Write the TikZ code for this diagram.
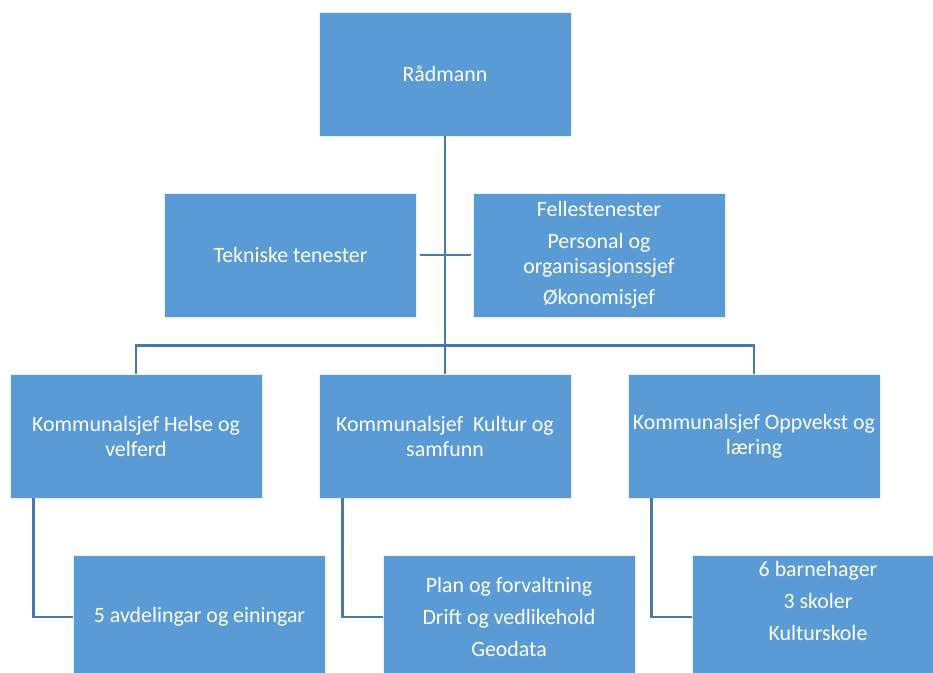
\documentclass[tikz,border=0pt]{standalone}
\usepackage{fontspec}
\setmainfont{Carlito}
\usepackage{tikz}
\usetikzlibrary{positioning,calc}
\definecolor{orgBlue}{RGB}{91,155,213}
\definecolor{orgLine}{RGB}{71,122,170}

\begin{document}
\begin{tikzpicture}[
        x=0.75pt, y=-0.75pt,
        unit/.style={draw=white!85!orgBlue, line width=0.6pt, fill=orgBlue,
          minimum width=189pt, minimum height=93pt, inner sep=0pt,
          text=white, font=\fontsize{16.4}{18.75}\selectfont, align=center},
        link/.style={draw=orgLine, line width=2.2pt},
      ]
        \useasboundingbox (0,0) rectangle (933,673);
        \clip (0,0) rectangle (933,673);

        \node[unit] (rad) at (445,74) {Rådmann};
        \node[unit] (tek) at (290.5,255) {Tekniske tenester};
        \node[unit] (fell) at (599,255) {Fellestenester\\[5pt]Personal og\\organisasjonssjef\\[5pt]Økonomisjef};

        \node[unit] (helse) at (136,436) {Kommunalsjef Helse og\\velferd};
        \node[unit] (kultur) at (445,436) {Kommunalsjef\ \ Kultur og\\samfunn};
        \node[unit] (oppvekst) at (754,436) {Kommunalsjef Oppvekst og\\læring};

        \node[unit] (avdel) at (199.5,617) {5 avdelingar og einingar};
        \node[unit] (plan) at (509,617) {Plan og forvaltning\\[5pt]Drift og vedlikehold\\[5pt]Geodata};
        \node[unit, text depth=24pt] (skule) at (818,617) {6 barnehager\\[5pt]3 skoler\\[5pt]Kulturskole};

        % staff line
        \coordinate (staffL) at (420,255);
        \coordinate (staffR) at (471,255);
        \draw[link] (staffL) -- (staffR);

        % main trunk and bus
        \draw[link] (rad.south) -- (kultur.north);
        \draw[link] (helse.north) -- ++(0,-28) -| (oppvekst.north);

        % sub units
        \draw[link] ([xshift=18pt]helse.south west) |- (avdel.west);
        \draw[link] ([xshift=18pt]kultur.south west) |- (plan.west);
        \draw[link] ([xshift=18pt]oppvekst.south west) |- (skule.west);
      \end{tikzpicture}
\end{document}
